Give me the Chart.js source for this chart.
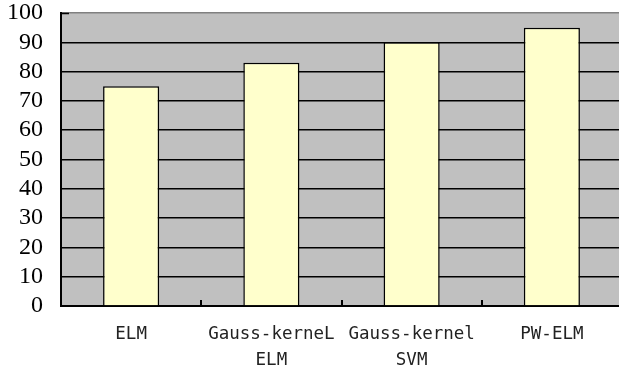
<!DOCTYPE html>
<html><head><meta charset="utf-8">
<script src="https://cdn.jsdelivr.net/npm/chart.js@4/dist/chart.umd.min.js"></script>
<style>html,body{margin:0;padding:0;background:#fff;overflow:hidden}#wrap{width:622px;height:371px;position:relative}</style>
</head><body><div id="wrap"><canvas id="c"></canvas></div>
<script>
const categories = [["ELM"], ["Gauss-kerneL", "ELM"], ["Gauss-kernel", "SVM"], ["PW-ELM"]];
const accuracy = [75, 83, 90, 95];
const yMin = 0, yMax = 100, yStep = 10;

const plotBg = {
  id: 'plotBg',
  beforeDraw(chart) {
    const {ctx, chartArea: a} = chart;
    ctx.save();
    ctx.fillStyle = '#c0c0c0';
    ctx.fillRect(a.left, a.top, a.right - a.left, a.bottom - a.top);
    ctx.restore();
  },
  afterDatasetsDraw(chart) {
    const {ctx, chartArea: a} = chart;
    const xs = chart.scales.x;
    ctx.save();
    ctx.strokeStyle = '#000';
    ctx.lineWidth = 2;
    for (let i = 0; i < categories.length - 1; i++) {
      const p = Math.round((xs.getPixelForTick(i) + xs.getPixelForTick(i + 1)) / 2);
      ctx.beginPath();
      ctx.moveTo(p, a.bottom);
      ctx.lineTo(p, a.bottom - 6);
      ctx.stroke();
    }
    const yt = Math.round(chart.scales.y.getPixelForValue(yMax)) + 0.5;
    ctx.lineWidth = 1.5;
    ctx.beginPath();
    ctx.moveTo(a.left, yt);
    ctx.lineTo(a.left + 8, yt);
    ctx.stroke();
    ctx.restore();
  }
};

new Chart(document.getElementById('c'), {
  type: 'bar',
  data: {
    labels: categories,
    datasets: [{
      data: accuracy,
      backgroundColor: '#ffffcc',
      borderColor: '#000',
      borderWidth: 1.5,
      categoryPercentage: 1,
      barPercentage: 0.4
    }]
  },
  options: {
    responsive: true,
    maintainAspectRatio: false,
    animation: false,
    layout: { padding: { top: 13, right: 0, left: 0, bottom: 0 } },
    plugins: { legend: { display: false }, tooltip: { enabled: false } },
    scales: {
      x: {
        offset: true,
        grid: { display: false, drawTicks: false },
        border: { display: true, color: '#000', width: 2 },
        ticks: {
          color: '#222',
          font: { family: "'DejaVu Sans Mono', 'Liberation Mono', monospace", size: 17.5, lineHeight: 1.46 },
          padding: 16,
          maxRotation: 0,
          autoSkip: false
        },
        afterFit(s) { s.height = 65; s.paddingLeft = 0; s.paddingRight = 0; }
      },
      y: {
        min: yMin, max: yMax,
        grid: {
          drawTicks: false,
          color: (c) => c.tick && c.tick.value === yMax ? '#808080' : '#000',
          lineWidth: 1.5
        },
        border: { display: true, color: '#000', width: 2 },
        ticks: {
          stepSize: yStep,
          autoSkip: false,
          color: '#000',
          font: { family: "'Liberation Serif', 'DejaVu Serif', serif", size: 24 },
          padding: 18
        },
        afterFit(s) { s.width = 61; s.paddingTop = 0; s.paddingBottom = 0; }
      }
    }
  },
  plugins: [plotBg]
});
</script></body></html>
